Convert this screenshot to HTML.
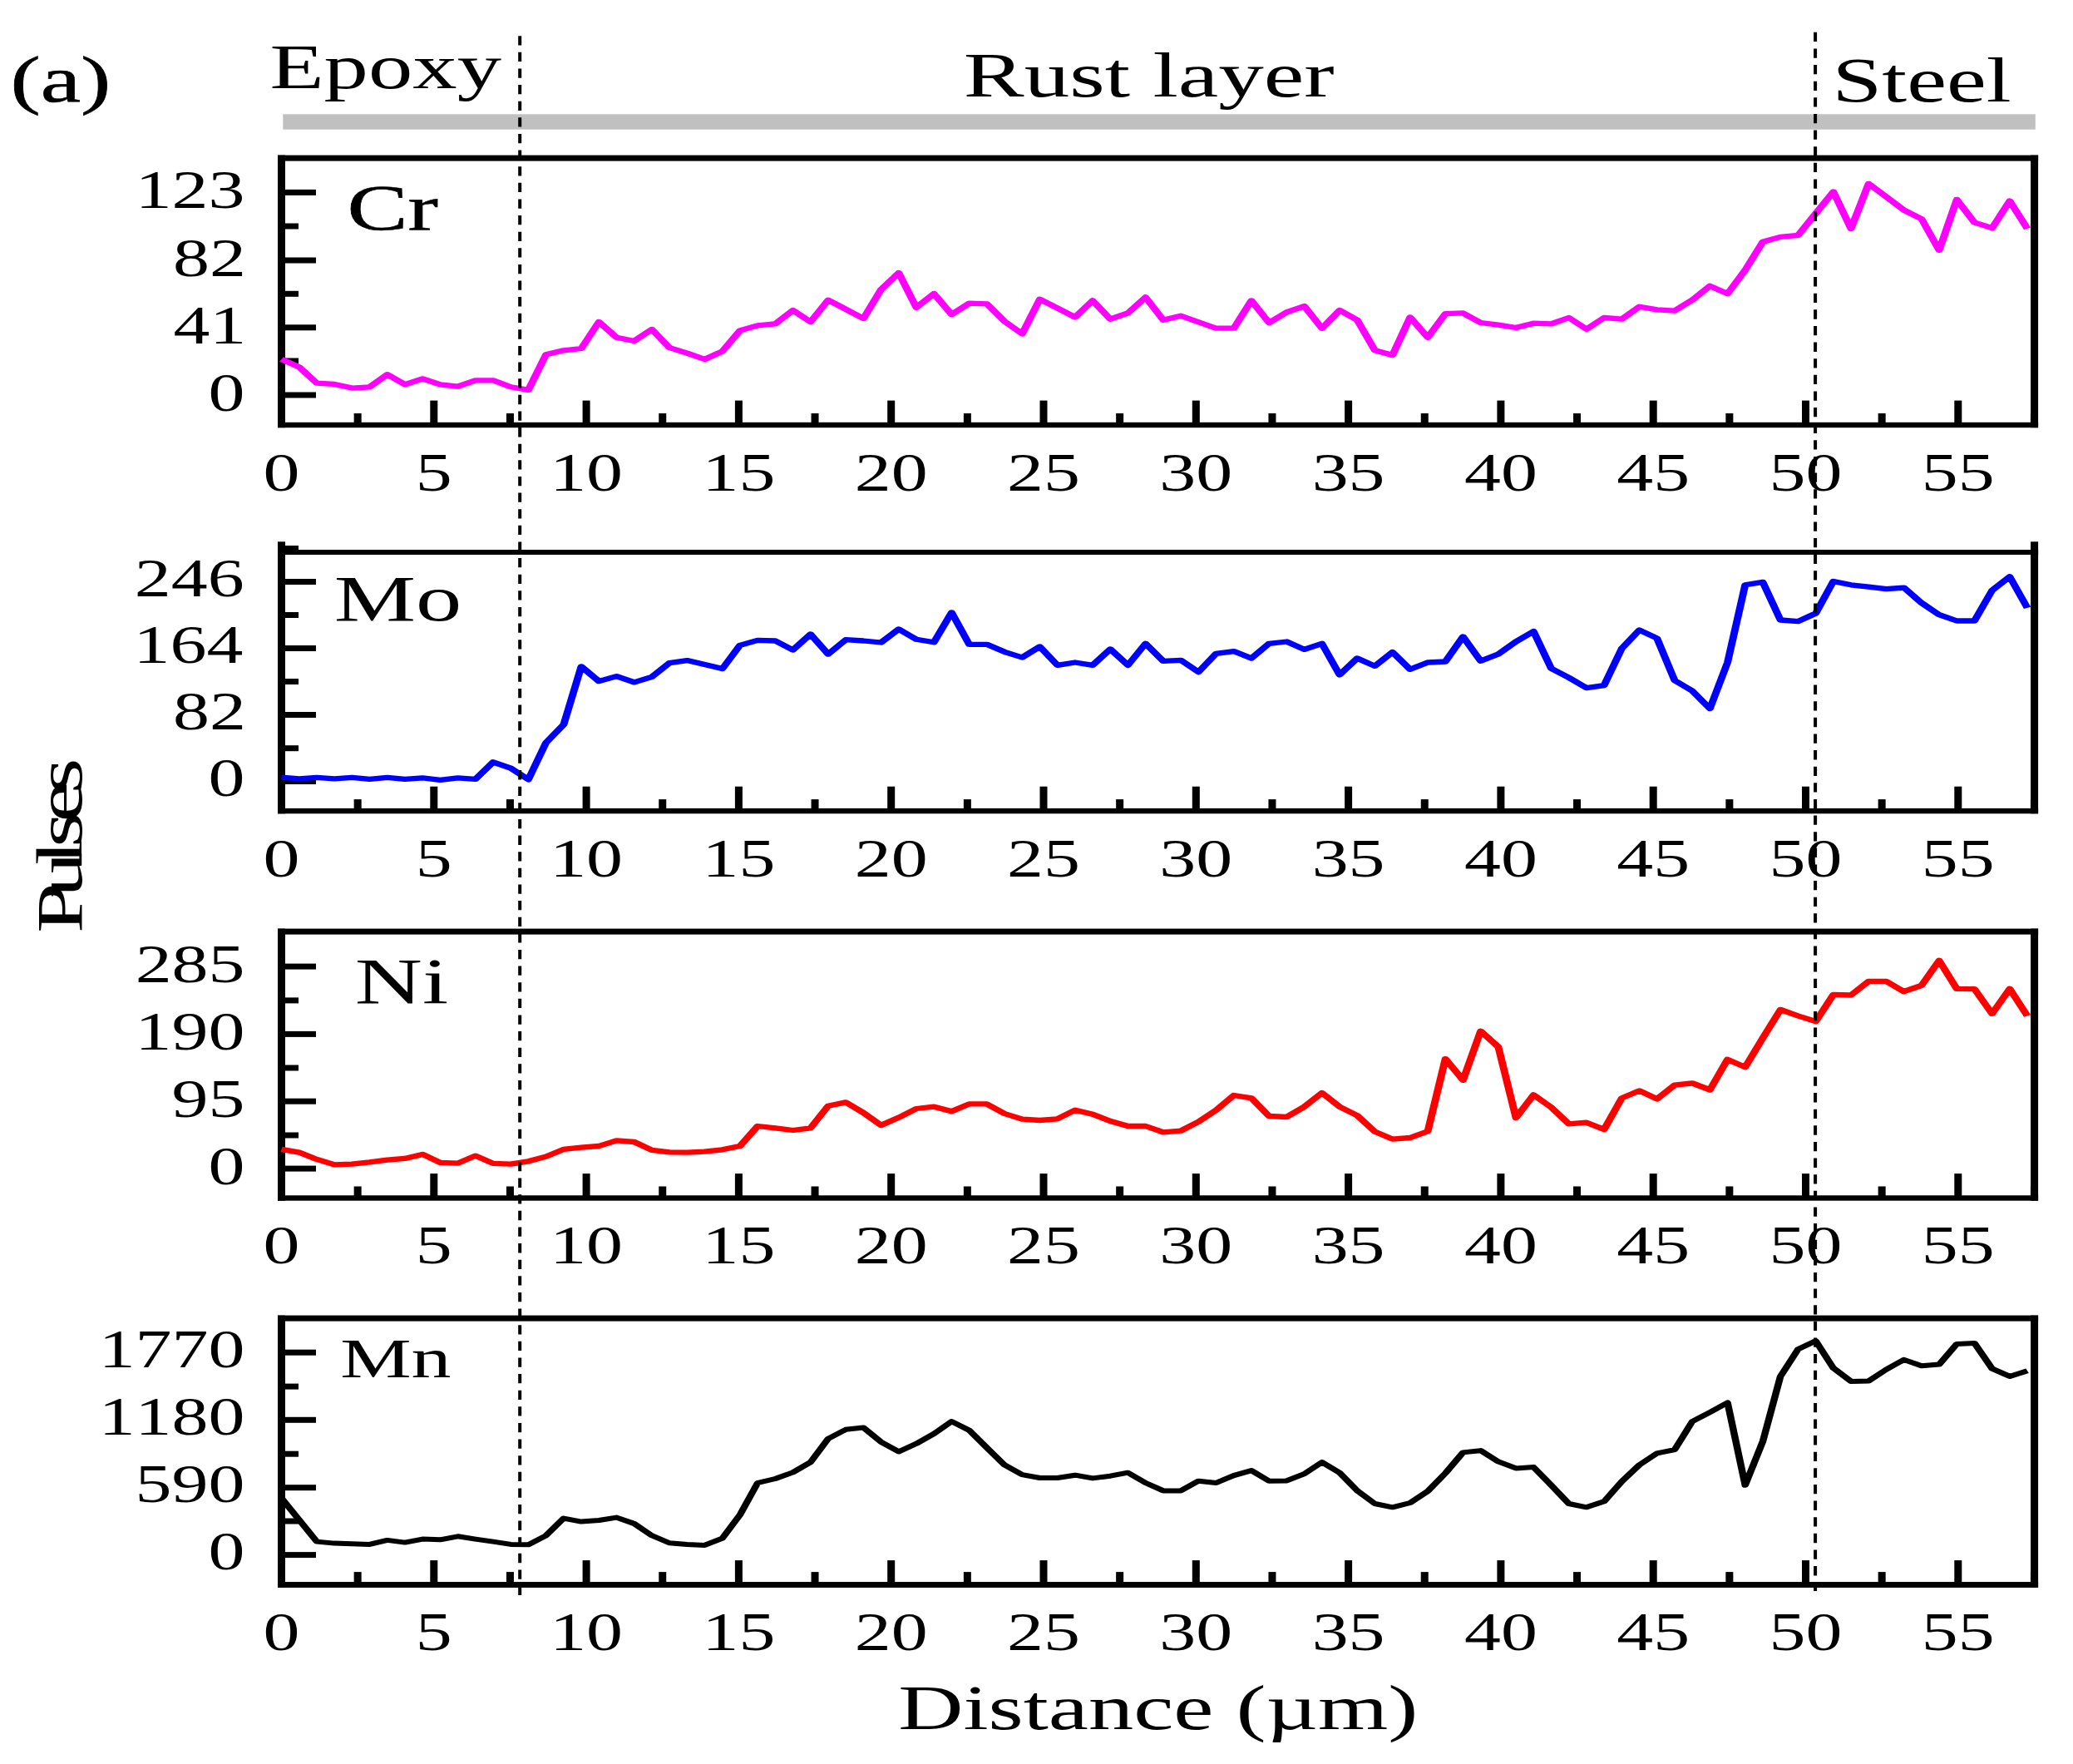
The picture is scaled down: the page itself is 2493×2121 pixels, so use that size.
<!DOCTYPE html>
<html><head><meta charset="utf-8"><title>Figure</title>
<style>html,body{margin:0;padding:0;background:#fff}svg{display:block}
text{font-family:"Liberation Serif",serif;fill:#000;font-kerning:none;white-space:pre}</style></head>
<body><svg width="2493" height="2121" viewBox="0 0 2493 2121">
<rect width="2493" height="2121" fill="#fff"/>
<rect x="340.30" y="137.30" width="2107.50" height="18.40" fill="#c0c0c0"/>
<rect x="334.00" y="186.60" width="9.00" height="327.60" fill="#000"/>
<rect x="2442.10" y="186.60" width="9.00" height="327.60" fill="#000"/>
<rect x="334.00" y="186.60" width="2117.10" height="7.00" fill="#000"/>
<rect x="334.00" y="507.80" width="2117.10" height="6.40" fill="#000"/>
<rect x="338.50" y="227.90" width="41.50" height="7.00" fill="#000"/>
<rect x="338.50" y="309.50" width="41.50" height="7.00" fill="#000"/>
<rect x="338.50" y="390.30" width="41.50" height="7.00" fill="#000"/>
<rect x="338.50" y="471.50" width="41.50" height="7.00" fill="#000"/>
<rect x="338.50" y="268.50" width="20.50" height="7.00" fill="#000"/>
<rect x="338.50" y="349.80" width="20.50" height="7.00" fill="#000"/>
<rect x="338.50" y="430.50" width="20.50" height="7.00" fill="#000"/>
<rect x="334.00" y="481.60" width="9.00" height="29.40" fill="#000"/>
<text transform="translate(316.54,589.60) scale(1.3600,1)" font-size="64.60" >0</text>
<rect x="425.65" y="497.00" width="9.00" height="14.00" fill="#000"/>
<rect x="517.30" y="481.60" width="9.00" height="29.40" fill="#000"/>
<text transform="translate(499.84,589.60) scale(1.3600,1)" font-size="64.60" >5</text>
<rect x="608.95" y="497.00" width="9.00" height="14.00" fill="#000"/>
<rect x="700.60" y="481.60" width="9.00" height="29.40" fill="#000"/>
<text transform="translate(661.17,589.60) scale(1.3600,1)" font-size="64.60" >10</text>
<rect x="792.25" y="497.00" width="9.00" height="14.00" fill="#000"/>
<rect x="883.90" y="481.60" width="9.00" height="29.40" fill="#000"/>
<text transform="translate(844.47,589.60) scale(1.3600,1)" font-size="64.60" >15</text>
<rect x="975.55" y="497.00" width="9.00" height="14.00" fill="#000"/>
<rect x="1067.20" y="481.60" width="9.00" height="29.40" fill="#000"/>
<text transform="translate(1027.77,589.60) scale(1.3600,1)" font-size="64.60" >20</text>
<rect x="1158.85" y="497.00" width="9.00" height="14.00" fill="#000"/>
<rect x="1250.50" y="481.60" width="9.00" height="29.40" fill="#000"/>
<text transform="translate(1211.07,589.60) scale(1.3600,1)" font-size="64.60" >25</text>
<rect x="1342.15" y="497.00" width="9.00" height="14.00" fill="#000"/>
<rect x="1433.80" y="481.60" width="9.00" height="29.40" fill="#000"/>
<text transform="translate(1394.37,589.60) scale(1.3600,1)" font-size="64.60" >30</text>
<rect x="1525.45" y="497.00" width="9.00" height="14.00" fill="#000"/>
<rect x="1617.10" y="481.60" width="9.00" height="29.40" fill="#000"/>
<text transform="translate(1577.67,589.60) scale(1.3600,1)" font-size="64.60" >35</text>
<rect x="1708.75" y="497.00" width="9.00" height="14.00" fill="#000"/>
<rect x="1800.40" y="481.60" width="9.00" height="29.40" fill="#000"/>
<text transform="translate(1760.97,589.60) scale(1.3600,1)" font-size="64.60" >40</text>
<rect x="1892.05" y="497.00" width="9.00" height="14.00" fill="#000"/>
<rect x="1983.70" y="481.60" width="9.00" height="29.40" fill="#000"/>
<text transform="translate(1944.27,589.60) scale(1.3600,1)" font-size="64.60" >45</text>
<rect x="2075.35" y="497.00" width="9.00" height="14.00" fill="#000"/>
<rect x="2167.00" y="481.60" width="9.00" height="29.40" fill="#000"/>
<text transform="translate(2127.57,589.60) scale(1.3600,1)" font-size="64.60" >50</text>
<rect x="2258.65" y="497.00" width="9.00" height="14.00" fill="#000"/>
<rect x="2350.30" y="481.60" width="9.00" height="29.40" fill="#000"/>
<text transform="translate(2310.87,589.60) scale(1.3600,1)" font-size="64.60" >55</text>
<rect x="2441.95" y="497.00" width="9.00" height="14.00" fill="#000"/>
<text transform="translate(162.65,250.10) scale(1.3600,1)" font-size="64.60" >123</text>
<text transform="translate(207.99,331.70) scale(1.3600,1)" font-size="64.60" >82</text>
<text transform="translate(208.42,412.50) scale(1.3600,1)" font-size="64.60" >41</text>
<text transform="translate(250.42,493.70) scale(1.3600,1)" font-size="64.60" >0</text>
<rect x="334.00" y="651.30" width="9.00" height="327.00" fill="#000"/>
<rect x="2442.10" y="651.30" width="9.00" height="327.00" fill="#000"/>
<rect x="334.00" y="661.00" width="2117.10" height="6.00" fill="#000"/>
<rect x="334.00" y="971.90" width="2117.10" height="6.40" fill="#000"/>
<rect x="338.50" y="696.00" width="41.50" height="7.00" fill="#000"/>
<rect x="338.50" y="776.00" width="41.50" height="7.00" fill="#000"/>
<rect x="338.50" y="856.00" width="41.50" height="7.00" fill="#000"/>
<rect x="338.50" y="936.00" width="41.50" height="7.00" fill="#000"/>
<rect x="338.50" y="656.00" width="20.50" height="7.00" fill="#000"/>
<rect x="338.50" y="736.00" width="20.50" height="7.00" fill="#000"/>
<rect x="338.50" y="816.00" width="20.50" height="7.00" fill="#000"/>
<rect x="338.50" y="896.20" width="20.50" height="7.00" fill="#000"/>
<rect x="334.00" y="945.70" width="9.00" height="29.40" fill="#000"/>
<text transform="translate(316.54,1053.70) scale(1.3600,1)" font-size="64.60" >0</text>
<rect x="425.65" y="961.10" width="9.00" height="14.00" fill="#000"/>
<rect x="517.30" y="945.70" width="9.00" height="29.40" fill="#000"/>
<text transform="translate(499.84,1053.70) scale(1.3600,1)" font-size="64.60" >5</text>
<rect x="608.95" y="961.10" width="9.00" height="14.00" fill="#000"/>
<rect x="700.60" y="945.70" width="9.00" height="29.40" fill="#000"/>
<text transform="translate(661.17,1053.70) scale(1.3600,1)" font-size="64.60" >10</text>
<rect x="792.25" y="961.10" width="9.00" height="14.00" fill="#000"/>
<rect x="883.90" y="945.70" width="9.00" height="29.40" fill="#000"/>
<text transform="translate(844.47,1053.70) scale(1.3600,1)" font-size="64.60" >15</text>
<rect x="975.55" y="961.10" width="9.00" height="14.00" fill="#000"/>
<rect x="1067.20" y="945.70" width="9.00" height="29.40" fill="#000"/>
<text transform="translate(1027.77,1053.70) scale(1.3600,1)" font-size="64.60" >20</text>
<rect x="1158.85" y="961.10" width="9.00" height="14.00" fill="#000"/>
<rect x="1250.50" y="945.70" width="9.00" height="29.40" fill="#000"/>
<text transform="translate(1211.07,1053.70) scale(1.3600,1)" font-size="64.60" >25</text>
<rect x="1342.15" y="961.10" width="9.00" height="14.00" fill="#000"/>
<rect x="1433.80" y="945.70" width="9.00" height="29.40" fill="#000"/>
<text transform="translate(1394.37,1053.70) scale(1.3600,1)" font-size="64.60" >30</text>
<rect x="1525.45" y="961.10" width="9.00" height="14.00" fill="#000"/>
<rect x="1617.10" y="945.70" width="9.00" height="29.40" fill="#000"/>
<text transform="translate(1577.67,1053.70) scale(1.3600,1)" font-size="64.60" >35</text>
<rect x="1708.75" y="961.10" width="9.00" height="14.00" fill="#000"/>
<rect x="1800.40" y="945.70" width="9.00" height="29.40" fill="#000"/>
<text transform="translate(1760.97,1053.70) scale(1.3600,1)" font-size="64.60" >40</text>
<rect x="1892.05" y="961.10" width="9.00" height="14.00" fill="#000"/>
<rect x="1983.70" y="945.70" width="9.00" height="29.40" fill="#000"/>
<text transform="translate(1944.27,1053.70) scale(1.3600,1)" font-size="64.60" >45</text>
<rect x="2075.35" y="961.10" width="9.00" height="14.00" fill="#000"/>
<rect x="2167.00" y="945.70" width="9.00" height="29.40" fill="#000"/>
<text transform="translate(2127.57,1053.70) scale(1.3600,1)" font-size="64.60" >50</text>
<rect x="2258.65" y="961.10" width="9.00" height="14.00" fill="#000"/>
<rect x="2350.30" y="945.70" width="9.00" height="29.40" fill="#000"/>
<text transform="translate(2310.87,1053.70) scale(1.3600,1)" font-size="64.60" >55</text>
<rect x="2441.95" y="961.10" width="9.00" height="14.00" fill="#000"/>
<text transform="translate(161.83,717.20) scale(1.3600,1)" font-size="64.60" >246</text>
<text transform="translate(160.59,797.20) scale(1.3600,1)" font-size="64.60" >164</text>
<text transform="translate(207.99,877.20) scale(1.3600,1)" font-size="64.60" >82</text>
<text transform="translate(250.42,957.20) scale(1.3600,1)" font-size="64.60" >0</text>
<rect x="334.00" y="1116.60" width="9.00" height="327.10" fill="#000"/>
<rect x="2442.10" y="1116.60" width="9.00" height="327.10" fill="#000"/>
<rect x="334.00" y="1116.60" width="2117.10" height="7.00" fill="#000"/>
<rect x="334.00" y="1437.30" width="2117.10" height="6.40" fill="#000"/>
<rect x="338.50" y="1158.60" width="41.50" height="7.00" fill="#000"/>
<rect x="338.50" y="1239.90" width="41.50" height="7.00" fill="#000"/>
<rect x="338.50" y="1320.70" width="41.50" height="7.00" fill="#000"/>
<rect x="338.50" y="1401.60" width="41.50" height="7.00" fill="#000"/>
<rect x="338.50" y="1199.40" width="20.50" height="7.00" fill="#000"/>
<rect x="338.50" y="1280.50" width="20.50" height="7.00" fill="#000"/>
<rect x="338.50" y="1361.50" width="20.50" height="7.00" fill="#000"/>
<rect x="334.00" y="1411.10" width="9.00" height="29.40" fill="#000"/>
<text transform="translate(316.54,1519.10) scale(1.3600,1)" font-size="64.60" >0</text>
<rect x="425.65" y="1426.50" width="9.00" height="14.00" fill="#000"/>
<rect x="517.30" y="1411.10" width="9.00" height="29.40" fill="#000"/>
<text transform="translate(499.84,1519.10) scale(1.3600,1)" font-size="64.60" >5</text>
<rect x="608.95" y="1426.50" width="9.00" height="14.00" fill="#000"/>
<rect x="700.60" y="1411.10" width="9.00" height="29.40" fill="#000"/>
<text transform="translate(661.17,1519.10) scale(1.3600,1)" font-size="64.60" >10</text>
<rect x="792.25" y="1426.50" width="9.00" height="14.00" fill="#000"/>
<rect x="883.90" y="1411.10" width="9.00" height="29.40" fill="#000"/>
<text transform="translate(844.47,1519.10) scale(1.3600,1)" font-size="64.60" >15</text>
<rect x="975.55" y="1426.50" width="9.00" height="14.00" fill="#000"/>
<rect x="1067.20" y="1411.10" width="9.00" height="29.40" fill="#000"/>
<text transform="translate(1027.77,1519.10) scale(1.3600,1)" font-size="64.60" >20</text>
<rect x="1158.85" y="1426.50" width="9.00" height="14.00" fill="#000"/>
<rect x="1250.50" y="1411.10" width="9.00" height="29.40" fill="#000"/>
<text transform="translate(1211.07,1519.10) scale(1.3600,1)" font-size="64.60" >25</text>
<rect x="1342.15" y="1426.50" width="9.00" height="14.00" fill="#000"/>
<rect x="1433.80" y="1411.10" width="9.00" height="29.40" fill="#000"/>
<text transform="translate(1394.37,1519.10) scale(1.3600,1)" font-size="64.60" >30</text>
<rect x="1525.45" y="1426.50" width="9.00" height="14.00" fill="#000"/>
<rect x="1617.10" y="1411.10" width="9.00" height="29.40" fill="#000"/>
<text transform="translate(1577.67,1519.10) scale(1.3600,1)" font-size="64.60" >35</text>
<rect x="1708.75" y="1426.50" width="9.00" height="14.00" fill="#000"/>
<rect x="1800.40" y="1411.10" width="9.00" height="29.40" fill="#000"/>
<text transform="translate(1760.97,1519.10) scale(1.3600,1)" font-size="64.60" >40</text>
<rect x="1892.05" y="1426.50" width="9.00" height="14.00" fill="#000"/>
<rect x="1983.70" y="1411.10" width="9.00" height="29.40" fill="#000"/>
<text transform="translate(1944.27,1519.10) scale(1.3600,1)" font-size="64.60" >45</text>
<rect x="2075.35" y="1426.50" width="9.00" height="14.00" fill="#000"/>
<rect x="2167.00" y="1411.10" width="9.00" height="29.40" fill="#000"/>
<text transform="translate(2127.57,1519.10) scale(1.3600,1)" font-size="64.60" >50</text>
<rect x="2258.65" y="1426.50" width="9.00" height="14.00" fill="#000"/>
<rect x="2350.30" y="1411.10" width="9.00" height="29.40" fill="#000"/>
<text transform="translate(2310.87,1519.10) scale(1.3600,1)" font-size="64.60" >55</text>
<rect x="2441.95" y="1426.50" width="9.00" height="14.00" fill="#000"/>
<text transform="translate(162.65,1180.60) scale(1.3600,1)" font-size="64.60" >285</text>
<text transform="translate(162.56,1261.90) scale(1.3600,1)" font-size="64.60" >190</text>
<text transform="translate(206.58,1342.70) scale(1.3600,1)" font-size="64.60" >95</text>
<text transform="translate(250.42,1423.60) scale(1.3600,1)" font-size="64.60" >0</text>
<rect x="334.00" y="1581.60" width="9.00" height="327.35" fill="#000"/>
<rect x="2442.10" y="1581.60" width="9.00" height="327.35" fill="#000"/>
<rect x="334.00" y="1581.60" width="2117.10" height="7.00" fill="#000"/>
<rect x="334.00" y="1902.05" width="2117.10" height="6.90" fill="#000"/>
<rect x="338.50" y="1622.70" width="41.50" height="7.00" fill="#000"/>
<rect x="338.50" y="1703.80" width="41.50" height="7.00" fill="#000"/>
<rect x="338.50" y="1785.20" width="41.50" height="7.00" fill="#000"/>
<rect x="338.50" y="1866.10" width="41.50" height="7.00" fill="#000"/>
<rect x="338.50" y="1663.60" width="20.50" height="7.00" fill="#000"/>
<rect x="338.50" y="1744.70" width="20.50" height="7.00" fill="#000"/>
<rect x="338.50" y="1825.50" width="20.50" height="7.00" fill="#000"/>
<rect x="334.00" y="1876.10" width="9.00" height="29.40" fill="#000"/>
<text transform="translate(316.54,1984.10) scale(1.3600,1)" font-size="64.60" >0</text>
<rect x="425.65" y="1890.10" width="9.00" height="15.40" fill="#000"/>
<rect x="517.30" y="1876.10" width="9.00" height="29.40" fill="#000"/>
<text transform="translate(499.84,1984.10) scale(1.3600,1)" font-size="64.60" >5</text>
<rect x="608.95" y="1890.10" width="9.00" height="15.40" fill="#000"/>
<rect x="700.60" y="1876.10" width="9.00" height="29.40" fill="#000"/>
<text transform="translate(661.17,1984.10) scale(1.3600,1)" font-size="64.60" >10</text>
<rect x="792.25" y="1890.10" width="9.00" height="15.40" fill="#000"/>
<rect x="883.90" y="1876.10" width="9.00" height="29.40" fill="#000"/>
<text transform="translate(844.47,1984.10) scale(1.3600,1)" font-size="64.60" >15</text>
<rect x="975.55" y="1890.10" width="9.00" height="15.40" fill="#000"/>
<rect x="1067.20" y="1876.10" width="9.00" height="29.40" fill="#000"/>
<text transform="translate(1027.77,1984.10) scale(1.3600,1)" font-size="64.60" >20</text>
<rect x="1158.85" y="1890.10" width="9.00" height="15.40" fill="#000"/>
<rect x="1250.50" y="1876.10" width="9.00" height="29.40" fill="#000"/>
<text transform="translate(1211.07,1984.10) scale(1.3600,1)" font-size="64.60" >25</text>
<rect x="1342.15" y="1890.10" width="9.00" height="15.40" fill="#000"/>
<rect x="1433.80" y="1876.10" width="9.00" height="29.40" fill="#000"/>
<text transform="translate(1394.37,1984.10) scale(1.3600,1)" font-size="64.60" >30</text>
<rect x="1525.45" y="1890.10" width="9.00" height="15.40" fill="#000"/>
<rect x="1617.10" y="1876.10" width="9.00" height="29.40" fill="#000"/>
<text transform="translate(1577.67,1984.10) scale(1.3600,1)" font-size="64.60" >35</text>
<rect x="1708.75" y="1890.10" width="9.00" height="15.40" fill="#000"/>
<rect x="1800.40" y="1876.10" width="9.00" height="29.40" fill="#000"/>
<text transform="translate(1760.97,1984.10) scale(1.3600,1)" font-size="64.60" >40</text>
<rect x="1892.05" y="1890.10" width="9.00" height="15.40" fill="#000"/>
<rect x="1983.70" y="1876.10" width="9.00" height="29.40" fill="#000"/>
<text transform="translate(1944.27,1984.10) scale(1.3600,1)" font-size="64.60" >45</text>
<rect x="2075.35" y="1890.10" width="9.00" height="15.40" fill="#000"/>
<rect x="2167.00" y="1876.10" width="9.00" height="29.40" fill="#000"/>
<text transform="translate(2127.57,1984.10) scale(1.3600,1)" font-size="64.60" >50</text>
<rect x="2258.65" y="1890.10" width="9.00" height="15.40" fill="#000"/>
<rect x="2350.30" y="1876.10" width="9.00" height="29.40" fill="#000"/>
<text transform="translate(2310.87,1984.10) scale(1.3600,1)" font-size="64.60" >55</text>
<rect x="2441.95" y="1890.10" width="9.00" height="15.40" fill="#000"/>
<text transform="translate(118.63,1643.90) scale(1.3600,1)" font-size="64.60" >1770</text>
<text transform="translate(118.63,1725.00) scale(1.3600,1)" font-size="64.60" >1180</text>
<text transform="translate(162.56,1806.40) scale(1.3600,1)" font-size="64.60" >590</text>
<text transform="translate(250.42,1887.30) scale(1.3600,1)" font-size="64.60" >0</text>
<polyline transform="scale(1.420,1)" points="238.38,432.0 253.32,441.3 268.25,460.6 283.19,461.9 298.12,466.6 313.06,465.3 327.99,450.3 342.93,462.3 357.86,455.3 372.80,462.3 387.73,464.6 402.67,457.3 417.60,457.3 432.54,465.3 447.47,468.9 462.41,426.3 477.34,421.3 492.28,419.0 507.21,387.0 522.15,405.7 537.08,410.0 552.02,396.0 566.95,418.0 581.89,424.7 596.83,432.0 611.76,422.3 626.70,397.4 641.63,391.4 656.57,389.4 671.50,373.1 686.44,387.0 701.37,360.7 731.24,383.0 746.18,348.1 761.11,328.1 776.05,369.7 790.98,353.1 805.92,378.1 820.85,364.7 835.79,365.4 850.72,386.4 865.66,401.4 880.59,359.7 910.46,381.4 925.40,361.4 940.34,383.7 955.27,376.4 970.21,357.4 985.14,384.7 1000.08,379.7 1029.95,394.7 1044.88,394.7 1059.82,361.4 1074.75,388.0 1089.69,375.4 1104.62,368.1 1119.56,394.7 1134.49,373.1 1149.43,384.7 1164.36,421.3 1179.30,427.0 1194.23,381.4 1209.17,405.7 1224.10,377.1 1239.04,376.4 1253.97,388.0 1268.91,390.7 1283.85,394.0 1298.78,388.7 1313.72,389.4 1328.65,382.0 1343.59,395.7 1358.52,382.0 1373.46,383.7 1388.39,368.7 1403.33,372.4 1418.26,373.7 1433.20,360.7 1448.13,343.8 1463.07,353.1 1478.00,324.8 1492.94,290.8 1507.87,284.9 1522.81,282.9 1537.74,256.6 1552.68,230.6 1567.61,274.9 1582.55,220.9 1597.48,236.6 1612.42,252.6 1627.35,263.2 1642.29,300.8 1657.23,239.9 1672.16,267.5 1687.10,274.2 1702.03,241.6 1716.97,274.9" fill="none" stroke="#ff00ff" stroke-width="6.3" stroke-linejoin="round" stroke-linecap="butt"/>
<polyline transform="scale(1.420,1)" points="238.38,934.6 253.32,936.3 268.25,934.9 283.19,936.3 298.12,934.9 313.06,936.9 327.99,934.9 342.93,936.9 357.86,935.3 372.80,937.9 387.73,935.3 402.67,936.9 417.60,916.3 432.54,923.6 447.47,937.3 462.41,893.0 477.34,871.3 492.28,801.4 507.21,819.1 522.15,813.1 537.08,820.4 552.02,813.8 566.95,797.1 581.89,794.1 596.83,799.1 611.76,804.1 626.70,775.8 641.63,769.8 656.57,770.5 671.50,781.5 686.44,762.5 701.37,786.5 716.31,769.2 731.24,770.5 746.18,772.5 761.11,756.5 776.05,768.8 790.98,772.2 805.92,736.5 820.85,774.8 835.79,774.8 850.72,783.8 865.66,790.5 880.59,777.5 895.53,799.8 910.46,796.5 925.40,799.8 940.34,780.5 955.27,799.8 970.21,773.8 985.14,794.8 1000.08,793.8 1015.01,808.1 1029.95,785.8 1044.88,783.1 1059.82,791.5 1074.75,773.8 1089.69,771.5 1104.62,780.8 1119.56,773.8 1134.49,811.4 1149.43,791.5 1164.36,800.8 1179.30,784.1 1194.23,804.8 1209.17,796.5 1224.10,795.5 1239.04,765.5 1253.97,794.8 1268.91,786.5 1283.85,771.5 1298.78,759.2 1313.72,803.8 1328.65,814.8 1343.59,827.1 1358.52,824.1 1373.46,779.8 1388.39,757.5 1403.33,767.5 1418.26,818.1 1433.20,830.7 1448.13,852.0 1463.07,796.5 1478.00,703.3 1492.94,699.9 1507.87,745.5 1522.81,747.2 1537.74,737.5 1552.68,698.9 1567.61,703.3 1582.55,705.6 1597.48,708.2 1612.42,706.6 1627.35,724.9 1642.29,739.2 1657.23,746.5 1672.16,746.5 1687.10,709.9 1702.03,693.3 1716.97,730.9" fill="none" stroke="#0000ff" stroke-width="6.3" stroke-linejoin="round" stroke-linecap="butt"/>
<polyline transform="scale(1.420,1)" points="238.38,1381.9 253.32,1385.6 268.25,1393.9 283.19,1400.3 298.12,1399.6 313.06,1397.3 327.99,1394.6 342.93,1392.9 357.86,1387.9 372.80,1397.9 387.73,1398.6 402.67,1389.6 417.60,1398.9 432.54,1399.6 447.47,1396.3 462.41,1390.6 477.34,1381.9 492.28,1379.6 507.21,1378.0 522.15,1371.3 537.08,1373.0 552.02,1382.9 566.95,1385.3 581.89,1385.6 596.83,1384.6 611.76,1382.3 626.70,1378.0 641.63,1354.0 656.57,1356.3 671.50,1359.0 686.44,1356.3 701.37,1329.7 716.31,1325.4 731.24,1338.0 746.18,1353.0 761.11,1343.7 776.05,1333.0 790.98,1330.7 805.92,1336.3 820.85,1327.4 835.79,1327.4 850.72,1339.0 865.66,1345.7 880.59,1347.0 895.53,1345.3 910.46,1334.7 925.40,1339.7 940.34,1348.0 955.27,1354.0 970.21,1354.0 985.14,1361.3 1000.08,1359.6 1015.01,1348.7 1029.95,1334.7 1044.88,1317.0 1059.82,1320.4 1074.75,1342.0 1089.69,1343.0 1104.62,1330.7 1119.56,1314.0 1134.49,1330.7 1149.43,1341.3 1164.36,1360.6 1179.30,1369.6 1194.23,1368.0 1209.17,1360.3 1224.10,1273.1 1239.04,1298.7 1253.97,1239.8 1268.91,1258.8 1283.85,1344.0 1298.78,1316.4 1313.72,1331.4 1328.65,1351.3 1343.59,1349.7 1358.52,1358.0 1373.46,1320.4 1388.39,1311.4 1403.33,1321.4 1418.26,1304.7 1433.20,1302.4 1448.13,1310.4 1463.07,1273.8 1478.00,1283.1 1492.94,1248.1 1507.87,1213.9 1522.81,1221.5 1537.74,1228.2 1552.68,1195.9 1567.61,1196.5 1582.55,1179.9 1597.48,1179.9 1612.42,1192.2 1627.35,1184.9 1642.29,1154.9 1657.23,1188.9 1672.16,1189.2 1687.10,1218.8 1702.03,1188.9 1716.97,1221.5" fill="none" stroke="#ff0000" stroke-width="6.3" stroke-linejoin="round" stroke-linecap="butt"/>
<polyline transform="scale(1.420,1)" points="238.38,1801.3 268.25,1853.6 283.19,1855.6 298.12,1856.3 313.06,1856.9 327.99,1851.9 342.93,1854.6 357.86,1850.6 372.80,1851.3 387.73,1847.3 402.67,1850.6 417.60,1853.6 432.54,1856.9 447.47,1857.3 462.41,1846.3 477.34,1825.6 492.28,1829.6 507.21,1828.0 522.15,1824.6 537.08,1832.0 552.02,1846.3 566.95,1855.3 581.89,1856.9 596.83,1857.9 611.76,1849.6 626.70,1821.3 641.63,1783.0 656.57,1778.0 671.50,1770.4 686.44,1758.1 701.37,1729.8 716.31,1718.8 731.24,1716.5 746.18,1733.8 761.11,1745.4 776.05,1735.8 790.98,1723.8 805.92,1709.1 820.85,1719.8 835.79,1740.8 850.72,1761.4 865.66,1773.1 880.59,1777.0 895.53,1777.0 910.46,1773.7 925.40,1777.4 940.34,1774.7 955.27,1770.7 970.21,1783.0 985.14,1792.4 1000.08,1792.4 1015.01,1780.7 1029.95,1783.0 1044.88,1774.1 1059.82,1768.1 1074.75,1780.7 1089.69,1780.4 1104.62,1772.1 1119.56,1758.1 1134.49,1770.7 1149.43,1792.4 1164.36,1808.0 1179.30,1812.3 1194.23,1807.0 1209.17,1793.0 1224.10,1771.4 1239.04,1746.4 1253.97,1744.1 1268.91,1757.4 1283.85,1765.4 1298.78,1764.1 1313.72,1785.7 1328.65,1808.0 1343.59,1812.3 1358.52,1805.3 1373.46,1781.4 1388.39,1761.4 1403.33,1747.4 1418.26,1743.1 1433.20,1709.1 1448.13,1698.2 1463.07,1686.5 1478.00,1785.7 1492.94,1733.1 1507.87,1654.9 1522.81,1622.3 1537.74,1612.3 1552.68,1644.9 1567.61,1660.9 1582.55,1660.5 1597.48,1646.6 1612.42,1634.9 1627.35,1642.2 1642.29,1640.6 1657.23,1615.9 1672.16,1614.9 1687.10,1645.6 1702.03,1654.9 1716.97,1648.2" fill="none" stroke="#000000" stroke-width="6.0" stroke-linejoin="round" stroke-linecap="butt"/>
<line x1="625.2" y1="43.2" x2="625.2" y2="1918" stroke="#000" stroke-width="4" stroke-dasharray="11.3 8.32"/>
<line x1="2183.1" y1="38.8" x2="2183.1" y2="1913" stroke="#000" stroke-width="4" stroke-dasharray="11.3 8.32"/>
<text transform="translate(12.51,121.60) scale(1.4016,1)" font-size="77.70" style="stroke:#000;stroke-width:0.6px">(a)</text>
<text transform="translate(324.43,106.00) scale(1.3985,1)" font-size="76.30" >Epoxy</text>
<text transform="translate(1158.85,116.10) scale(1.4502,1)" font-size="75.30" >Rust layer</text>
<text transform="translate(2203.50,121.50) scale(1.4066,1)" font-size="76.50" >Steel</text>
<text transform="translate(417.51,276.00) scale(1.4032,1)" font-size="78.00" style="stroke:#000;stroke-width:0.6px">Cr</text>
<text transform="translate(401.71,746.00) scale(1.4175,1)" font-size="78.00" >Mo</text>
<text transform="translate(426.76,1205.70) scale(1.4519,1)" font-size="77.40" >Ni</text>
<text transform="translate(409.13,1655.80) scale(1.4021,1)" font-size="68.50" >Mn</text>
<text transform="translate(1080.18,2078.90) scale(1.4207,1)" font-size="76.30" >Distance (µm)</text>
<text transform="translate(98.3,1122.0) rotate(-90) scale(1.410,1)" font-size="77.50" x="0.00 30.57 58.05 73.32 94.71 119.11" y="0">Pulses</text>
</svg></body></html>
